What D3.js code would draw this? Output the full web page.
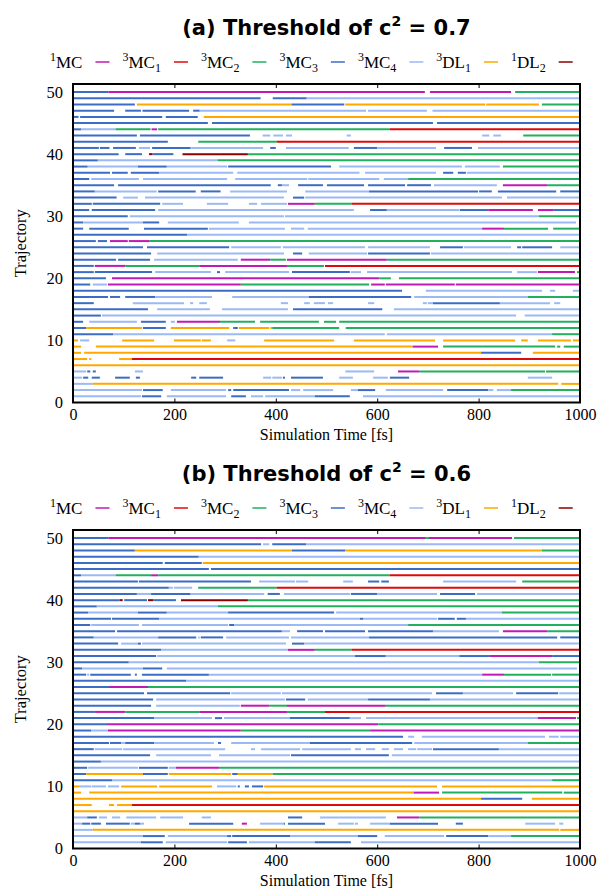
<!DOCTYPE html>
<html><head><meta charset="utf-8">
<script src="https://cdn.jsdelivr.net/npm/d3@7"></script>
<style>body{margin:0;background:#fff}</style>
</head><body>
<svg id="c" width="600" height="890"></svg>
<script>
// ---- data ----
const stateCodes  = ["M","R","G","D","L","O","K"];
const stateSup    = ["1","3","3","3","3","3","1"];
const stateMain   = ["MC","MC","MC","MC","MC","DL","DL"];
const stateSub    = ["","1","2","3","4","1","2"];
const stateColors = ["#c01ab6","#de0a0a","#22b05f","#3b6cc6","#9bbaf5","#ffa800","#8b0000"];
const xTicks = [0,200,400,600,800,1000];
const yTicks = [0,10,20,30,40,50];
const panelTitles = ["(a) Threshold of c","(b) Threshold of c"];
const thresholds = ["0.7","0.6"];

// trajectories 1..50, each a list of [start fs, end fs, state]
const trajA = [
[[2,134,"L"],[136,174,"D"],[185,302,"L"],[312,341,"D"],[351,375,"L"],[379,477,"L"],[477,546,"D"],[572,1000,"L"]],
[[2,136,"L"],[138,177,"D"],[193,302,"L"],[306,312,"D"],[316,426,"D"],[430,448,"L"],[454,513,"L"],[548,562,"L"],[562,596,"D"],[617,730,"L"],[738,819,"D"],[819,829,"L"],[836,864,"L"],[864,1000,"G"]],
[[2,39,"L"],[39,957,"O"],[963,1000,"O"]],
[[2,18,"L"],[20,30,"D"],[37,53,"D"],[83,112,"D"],[124,132,"D"],[233,243,"D"],[249,296,"D"],[375,391,"L"],[393,412,"L"],[414,418,"D"],[430,493,"D"],[525,552,"L"],[592,621,"L"],[625,663,"D"],[897,945,"L"]],
[[2,26,"L"],[28,34,"D"],[39,45,"D"],[122,138,"L"],[537,594,"L"],[641,684,"M"],[684,931,"G"],[933,1000,"G"]],
[[0,1000,"O"]],
[[2,28,"O"],[32,36,"O"],[91,116,"O"],[116,1000,"R"]],
[[2,16,"O"],[22,805,"O"],[805,884,"D"],[907,1000,"O"]],
[[2,16,"O"],[45,670,"O"],[670,720,"M"],[730,951,"G"],[955,961,"G"],[968,1000,"G"]],
[[0,10,"O"],[14,32,"L"],[97,160,"O"],[199,252,"O"],[254,272,"O"],[304,320,"L"],[377,515,"O"],[554,714,"O"],[730,872,"O"],[884,897,"O"],[917,982,"O"],[986,1000,"O"]],
[[0,79,"D"],[79,615,"L"],[619,945,"L"],[945,1000,"G"]],
[[0,26,"D"],[26,136,"O"],[138,183,"D"],[193,308,"O"],[316,325,"D"],[327,387,"O"],[389,393,"O"],[393,525,"G"],[538,1000,"G"]],
[[0,20,"D"],[32,126,"L"],[134,183,"D"],[193,201,"L"],[205,290,"M"],[290,359,"G"],[369,485,"G"],[495,519,"G"],[525,1000,"G"]],
[[0,55,"D"],[57,874,"L"],[891,1000,"L"]],
[[0,148,"D"],[166,270,"L"],[294,424,"L"],[434,610,"D"],[633,1000,"L"]],
[[0,41,"D"],[118,219,"L"],[231,237,"L"],[249,264,"L"],[410,424,"L"],[456,467,"L"],[475,497,"L"],[503,513,"L"],[582,594,"L"],[690,698,"L"],[700,710,"L"],[710,842,"D"],[842,941,"L"],[949,961,"L"]],
[[0,69,"D"],[73,93,"D"],[103,162,"D"],[162,274,"L"],[314,465,"L"],[465,667,"D"],[673,897,"L"],[897,1000,"G"]],
[[0,649,"D"],[696,925,"L"],[941,951,"L"],[986,1000,"L"]],
[[0,34,"D"],[39,67,"L"],[69,331,"M"],[331,584,"G"],[588,615,"M"],[617,753,"M"],[755,1000,"M"]],
[[0,65,"D"],[77,604,"M"],[604,627,"G"],[643,1000,"G"]],
[[0,41,"D"],[43,156,"D"],[162,272,"L"],[284,290,"D"],[300,426,"L"],[432,546,"D"],[548,568,"L"],[580,866,"L"],[876,915,"L"],[917,990,"M"],[994,1000,"G"]],
[[0,41,"D"],[43,103,"M"],[103,249,"G"],[249,422,"M"],[422,495,"G"],[497,1000,"R"]],
[[0,85,"D"],[89,152,"D"],[160,325,"L"],[331,389,"M"],[389,420,"G"],[422,619,"M"],[619,1000,"G"]],
[[0,154,"D"],[166,416,"L"],[434,452,"D"],[465,580,"L"],[582,704,"D"],[706,1000,"L"]],
[[0,138,"D"],[146,308,"D"],[312,410,"L"],[414,576,"L"],[582,704,"L"],[724,769,"D"],[771,864,"L"],[876,884,"D"],[886,945,"D"],[961,1000,"L"]],
[[0,45,"D"],[49,67,"D"],[73,108,"M"],[110,150,"M"],[150,1000,"G"]],
[[0,225,"D"],[225,1000,"L"]],
[[0,20,"D"],[32,110,"D"],[140,266,"D"],[268,418,"L"],[430,456,"L"],[463,807,"L"],[807,850,"M"],[850,937,"G"],[947,1000,"G"]],
[[0,20,"D"],[20,138,"L"],[138,170,"D"],[187,327,"L"],[347,992,"L"]],
[[0,108,"D"],[112,416,"L"],[418,919,"L"],[919,1000,"G"]],
[[0,32,"D"],[37,162,"D"],[168,554,"L"],[586,619,"D"],[619,762,"L"],[763,819,"D"],[819,907,"M"],[917,947,"M"],[947,1000,"D"]],
[[0,37,"D"],[39,172,"D"],[176,217,"L"],[264,306,"L"],[347,363,"L"],[371,422,"L"],[424,477,"M"],[477,550,"G"],[550,1000,"R"]],
[[0,86,"D"],[99,128,"L"],[142,416,"L"],[434,456,"D"],[458,846,"L"],[856,1000,"L"]],
[[0,43,"D"],[43,165,"L"],[168,242,"D"],[252,291,"D"],[310,422,"L"],[458,584,"L"],[584,799,"D"],[801,826,"D"],[838,953,"D"],[961,1000,"D"]],
[[0,81,"D"],[89,390,"D"],[404,412,"D"],[412,426,"L"],[444,493,"D"],[501,574,"D"],[582,655,"D"],[659,706,"D"],[712,836,"L"],[848,935,"M"],[935,1000,"G"]],
[[0,32,"D"],[36,130,"L"],[138,304,"L"],[320,462,"L"],[464,604,"L"],[613,661,"L"],[661,1000,"G"]],
[[0,73,"D"],[77,108,"D"],[114,170,"D"],[170,316,"L"],[324,565,"L"],[576,716,"L"],[730,750,"D"],[759,775,"D"],[777,1000,"L"]],
[[0,29,"D"],[29,128,"L"],[128,185,"D"],[185,304,"L"],[306,509,"D"],[525,767,"L"],[773,842,"L"],[848,1000,"G"]],
[[0,49,"D"],[49,285,"L"],[285,1000,"G"]],
[[0,90,"D"],[103,136,"D"],[150,157,"K"],[157,198,"D"],[216,345,"K"],[345,1000,"G"]],
[[0,51,"D"],[53,72,"D"],[79,124,"D"],[130,152,"L"],[156,232,"D"],[233,375,"L"],[389,400,"D"],[420,544,"L"],[554,600,"D"],[600,716,"L"],[732,787,"D"],[799,1000,"L"]],
[[0,187,"D"],[247,402,"G"],[402,1000,"R"]],
[[0,126,"D"],[132,349,"D"],[374,389,"L"],[395,414,"L"],[420,432,"L"],[540,548,"L"],[807,821,"L"],[829,844,"L"],[888,1000,"G"]],
[[0,16,"D"],[16,84,"L"],[84,153,"G"],[155,166,"M"],[168,625,"G"],[625,1000,"R"]],
[[0,266,"D"],[274,710,"D"],[718,1000,"D"]],
[[0,11,"D"],[14,176,"D"],[183,246,"D"],[258,1000,"O"]],
[[0,81,"D"],[103,134,"D"],[137,229,"D"],[237,250,"D"],[250,578,"L"],[582,698,"L"],[709,1000,"L"]],
[[0,122,"D"],[126,431,"O"],[431,535,"D"],[537,813,"O"],[815,919,"O"],[925,1000,"G"]],
[[0,370,"D"],[394,461,"D"],[461,1000,"L"]],
[[0,70,"D"],[70,694,"M"],[704,864,"M"],[872,1000,"G"]]
];

const trajB = [
[[2,134,"L"],[134,177,"D"],[183,304,"L"],[306,343,"D"],[347,477,"L"],[477,548,"D"],[568,1000,"L"]],
[[2,138,"L"],[138,181,"D"],[187,304,"L"],[304,312,"D"],[314,428,"D"],[428,562,"L"],[562,600,"D"],[615,732,"L"],[736,819,"D"],[819,864,"L"],[864,1000,"G"]],
[[2,39,"L"],[39,959,"O"],[961,1000,"O"]],
[[2,18,"L"],[18,34,"D"],[36,55,"D"],[65,112,"D"],[114,122,"L"],[122,132,"D"],[132,140,"L"],[229,316,"D"],[333,343,"M"],[369,416,"L"],[416,418,"D"],[424,497,"D"],[523,554,"L"],[556,562,"L"],[586,625,"L"],[625,720,"D"],[755,769,"D"],[892,951,"L"],[959,967,"L"]],
[[2,28,"L"],[28,47,"D"],[51,67,"L"],[77,93,"L"],[105,164,"L"],[172,217,"L"],[254,272,"L"],[424,452,"D"],[487,617,"L"],[639,683,"M"],[683,1000,"G"]],
[[0,1000,"O"]],
[[2,37,"O"],[71,81,"O"],[87,116,"O"],[116,1000,"R"]],
[[0,805,"O"],[805,886,"D"],[905,1000,"O"]],
[[2,16,"O"],[32,672,"O"],[672,722,"M"],[728,965,"G"],[968,1000,"G"]],
[[0,12,"O"],[12,36,"L"],[37,65,"L"],[69,91,"L"],[95,166,"O"],[170,274,"O"],[284,322,"L"],[325,329,"D"],[339,347,"D"],[353,375,"D"],[377,718,"O"],[728,1000,"O"]],
[[0,77,"D"],[77,945,"L"],[945,1000,"G"]],
[[0,26,"D"],[26,138,"O"],[138,187,"D"],[189,312,"O"],[314,325,"D"],[325,394,"O"],[394,1000,"G"]],
[[0,28,"D"],[30,128,"L"],[130,187,"D"],[189,203,"L"],[203,288,"M"],[288,1000,"G"]],
[[0,55,"D"],[55,1000,"L"]],
[[0,152,"D"],[164,272,"L"],[288,428,"L"],[430,623,"D"],[629,1000,"L"]],
[[0,41,"D"],[43,97,"L"],[99,300,"L"],[351,359,"L"],[371,448,"L"],[452,548,"L"],[556,568,"L"],[578,596,"L"],[609,623,"L"],[633,651,"L"],[661,677,"L"],[679,708,"L"],[710,840,"D"],[840,1000,"L"]],
[[0,71,"D"],[73,95,"D"],[95,103,"L"],[103,160,"D"],[160,278,"L"],[286,292,"D"],[312,467,"L"],[467,669,"D"],[673,897,"L"],[897,1000,"G"]],
[[0,651,"D"],[661,673,"L"],[688,931,"L"],[939,958,"L"],[961,1000,"L"]],
[[0,36,"D"],[36,69,"L"],[69,331,"M"],[331,586,"G"],[586,1000,"M"]],
[[0,67,"D"],[67,602,"M"],[602,1000,"G"]],
[[0,160,"D"],[160,274,"L"],[280,294,"D"],[298,428,"L"],[428,546,"D"],[546,568,"L"],[578,917,"L"],[917,992,"M"],[994,1000,"G"]],
[[0,43,"D"],[43,103,"M"],[103,249,"G"],[249,422,"M"],[422,497,"G"],[497,1000,"R"]],
[[0,154,"D"],[164,329,"L"],[331,387,"M"],[387,422,"G"],[422,617,"M"],[617,1000,"G"]],
[[0,158,"D"],[164,418,"L"],[420,458,"D"],[463,582,"L"],[582,704,"D"],[704,1000,"L"]],
[[0,140,"D"],[146,310,"D"],[312,410,"L"],[412,708,"L"],[716,769,"D"],[769,868,"L"],[874,957,"D"],[959,1000,"L"]],
[[0,71,"D"],[71,148,"M"],[148,1000,"G"]],
[[0,223,"D"],[223,1000,"L"]],
[[0,26,"D"],[28,32,"L"],[34,114,"D"],[122,126,"D"],[136,268,"D"],[268,807,"L"],[807,850,"M"],[850,943,"G"],[945,1000,"G"]],
[[0,18,"D"],[18,138,"L"],[138,176,"D"],[185,994,"L"]],
[[0,110,"D"],[110,919,"L"],[919,1000,"G"]],
[[0,164,"D"],[166,556,"L"],[556,617,"D"],[617,762,"L"],[762,821,"D"],[821,945,"M"],[945,1000,"D"]],
[[0,174,"D"],[174,424,"L"],[424,477,"M"],[477,550,"G"],[550,1000,"R"]],
[[0,89,"D"],[95,128,"L"],[128,134,"D"],[136,420,"L"],[432,456,"D"],[456,1000,"L"]],
[[0,41,"D"],[41,168,"L"],[168,243,"D"],[247,250,"L"],[252,296,"D"],[302,426,"L"],[430,584,"L"],[584,955,"D"],[961,1000,"D"]],
[[0,83,"D"],[87,412,"D"],[412,428,"L"],[442,493,"D"],[497,576,"D"],[582,710,"D"],[710,840,"L"],[848,935,"M"],[935,1000,"G"]],
[[0,34,"D"],[36,130,"L"],[136,306,"L"],[308,318,"D"],[318,661,"L"],[661,1000,"G"]],
[[0,75,"D"],[77,170,"D"],[170,566,"L"],[566,572,"D"],[572,718,"L"],[720,753,"D"],[757,775,"D"],[775,1000,"L"]],
[[0,30,"D"],[30,128,"L"],[128,185,"D"],[185,306,"L"],[306,515,"D"],[519,846,"L"],[846,1000,"G"]],
[[0,47,"D"],[47,286,"L"],[286,1000,"G"]],
[[0,92,"D"],[92,98,"K"],[101,146,"D"],[148,158,"K"],[158,203,"D"],[213,345,"K"],[345,1000,"G"]],
[[0,126,"D"],[126,154,"L"],[154,232,"D"],[232,377,"L"],[384,408,"D"],[416,546,"L"],[548,600,"D"],[600,718,"L"],[724,793,"D"],[797,1000,"L"]],
[[0,189,"D"],[189,197,"L"],[199,235,"L"],[247,402,"G"],[402,1000,"R"]],
[[0,128,"D"],[130,351,"D"],[367,438,"L"],[440,464,"L"],[533,552,"L"],[582,604,"D"],[608,623,"D"],[730,874,"L"],[886,1000,"G"]],
[[0,16,"D"],[16,84,"L"],[84,154,"G"],[154,168,"M"],[168,625,"G"],[625,1000,"R"]],
[[0,268,"D"],[272,1000,"D"]],
[[0,177,"D"],[181,254,"D"],[256,1000,"O"]],
[[0,248,"D"],[248,1000,"L"]],
[[0,122,"D"],[122,432,"O"],[432,537,"D"],[537,925,"O"],[925,1000,"G"]],
[[0,371,"D"],[375,387,"L"],[393,460,"D"],[460,1000,"L"]],
[[0,70,"D"],[70,696,"M"],[696,702,"G"],[702,866,"M"],[870,1000,"G"]]
];

// ---- drawing ----
const svg = d3.select("#c");
const serif = "'Liberation Serif','Times New Roman',serif";
const colorOf = d3.scaleOrdinal().domain(stateCodes).range(stateColors);

function drawPanel(offsetY, traj, titleTxt, thr){
  const left = 73, right = 580, top = 84 + offsetY, bottom = 402.5 + offsetY;
  const x = d3.scaleLinear().domain([0,1000]).range([left,right]);
  const y = d3.scaleLinear().domain([0,51.3]).range([bottom,top]);
  const g = svg.append("g");

  // title
  const t = g.append("text").attr("x",(left+right)/2).attr("y",35+offsetY)
    .attr("text-anchor","middle").attr("font-family","'DejaVu Sans',sans-serif")
    .attr("font-weight","bold").attr("font-size",21).attr("fill","#000");
  t.append("tspan").text(titleTxt);
  t.append("tspan").attr("font-size",14).attr("dy",-9).text("2");
  t.append("tspan").attr("dy",9).text(" = " + thr);

  // legend
  let lx = 50;
  const ly = 68 + offsetY;
  stateCodes.forEach((c,i)=>{
    const tx = g.append("text").attr("x",lx).attr("y",ly)
      .attr("font-family",serif).attr("font-size",17).attr("fill","#000");
    tx.append("tspan").attr("font-size",12).attr("dy",-7).text(stateSup[i]);
    tx.append("tspan").attr("dy",7).text(stateMain[i]);
    if(stateSub[i]) tx.append("tspan").attr("font-size",12).attr("dy",4).text(stateSub[i]);
    const w = tx.node().getComputedTextLength();
    const x0 = lx + w + 13;
    g.append("line").attr("x1",x0).attr("x2",x0+14).attr("y1",ly-6).attr("y2",ly-6)
      .attr("stroke",stateColors[i]).attr("stroke-width",1.5);
    lx = x0 + 14 + 13;
  });

  // segments
  traj.forEach((segs,ri)=>{
    const row = ri+1;
    g.selectAll(null).data(segs).enter().append("line")
      .attr("x1",d=>x(d[0])).attr("x2",d=>x(d[1]))
      .attr("y1",y(row)).attr("y2",y(row))
      .attr("stroke",d=>colorOf(d[2])).attr("stroke-width",2).attr("stroke-linecap","butt");
  });

  // frame
  g.append("rect").attr("x",left).attr("y",top).attr("width",right-left).attr("height",bottom-top)
    .attr("fill","none").attr("stroke","#000").attr("stroke-width",2);

  // x ticks (inward, top and bottom)
  const xb = g.append("g").attr("transform",`translate(0,${bottom})`)
    .call(d3.axisBottom(x).tickValues(xTicks).tickSizeInner(-4).tickSizeOuter(0).tickPadding(6).tickFormat(d3.format("d")));
  xb.select(".domain").remove();
  xb.selectAll("text").attr("font-family",serif).attr("font-size",16).attr("fill","#000");
  xb.selectAll("line").attr("stroke","#000");
  const xt = g.append("g").attr("transform",`translate(0,${top})`)
    .call(d3.axisTop(x).tickValues(xTicks).tickSizeInner(-4).tickSizeOuter(0).tickFormat(""));
  xt.select(".domain").remove();
  xt.selectAll("line").attr("stroke","#000");

  // y tick labels
  const ya = g.append("g").attr("transform",`translate(${left},0)`)
    .call(d3.axisLeft(y).tickValues(yTicks).tickSizeInner(0).tickSizeOuter(0).tickPadding(10).tickFormat(d3.format("d")));
  ya.select(".domain").remove();
  ya.selectAll("text").attr("font-family",serif).attr("font-size",16.5).attr("fill","#000");

  // axis labels
  g.append("text").attr("x",(left+right)/2).attr("y",bottom+37).attr("text-anchor","middle")
    .attr("font-family",serif).attr("font-size",16).attr("fill","#000").text("Simulation Time [fs]");
  g.append("text").attr("transform",`translate(26,${(top+bottom)/2}) rotate(-90)`).attr("text-anchor","middle")
    .attr("font-family",serif).attr("font-size",16.5).attr("fill","#000").text("Trajectory");
}

drawPanel(0, trajA, panelTitles[0], thresholds[0]);
drawPanel(446, trajB, panelTitles[1], thresholds[1]);
</script>
</body></html>
